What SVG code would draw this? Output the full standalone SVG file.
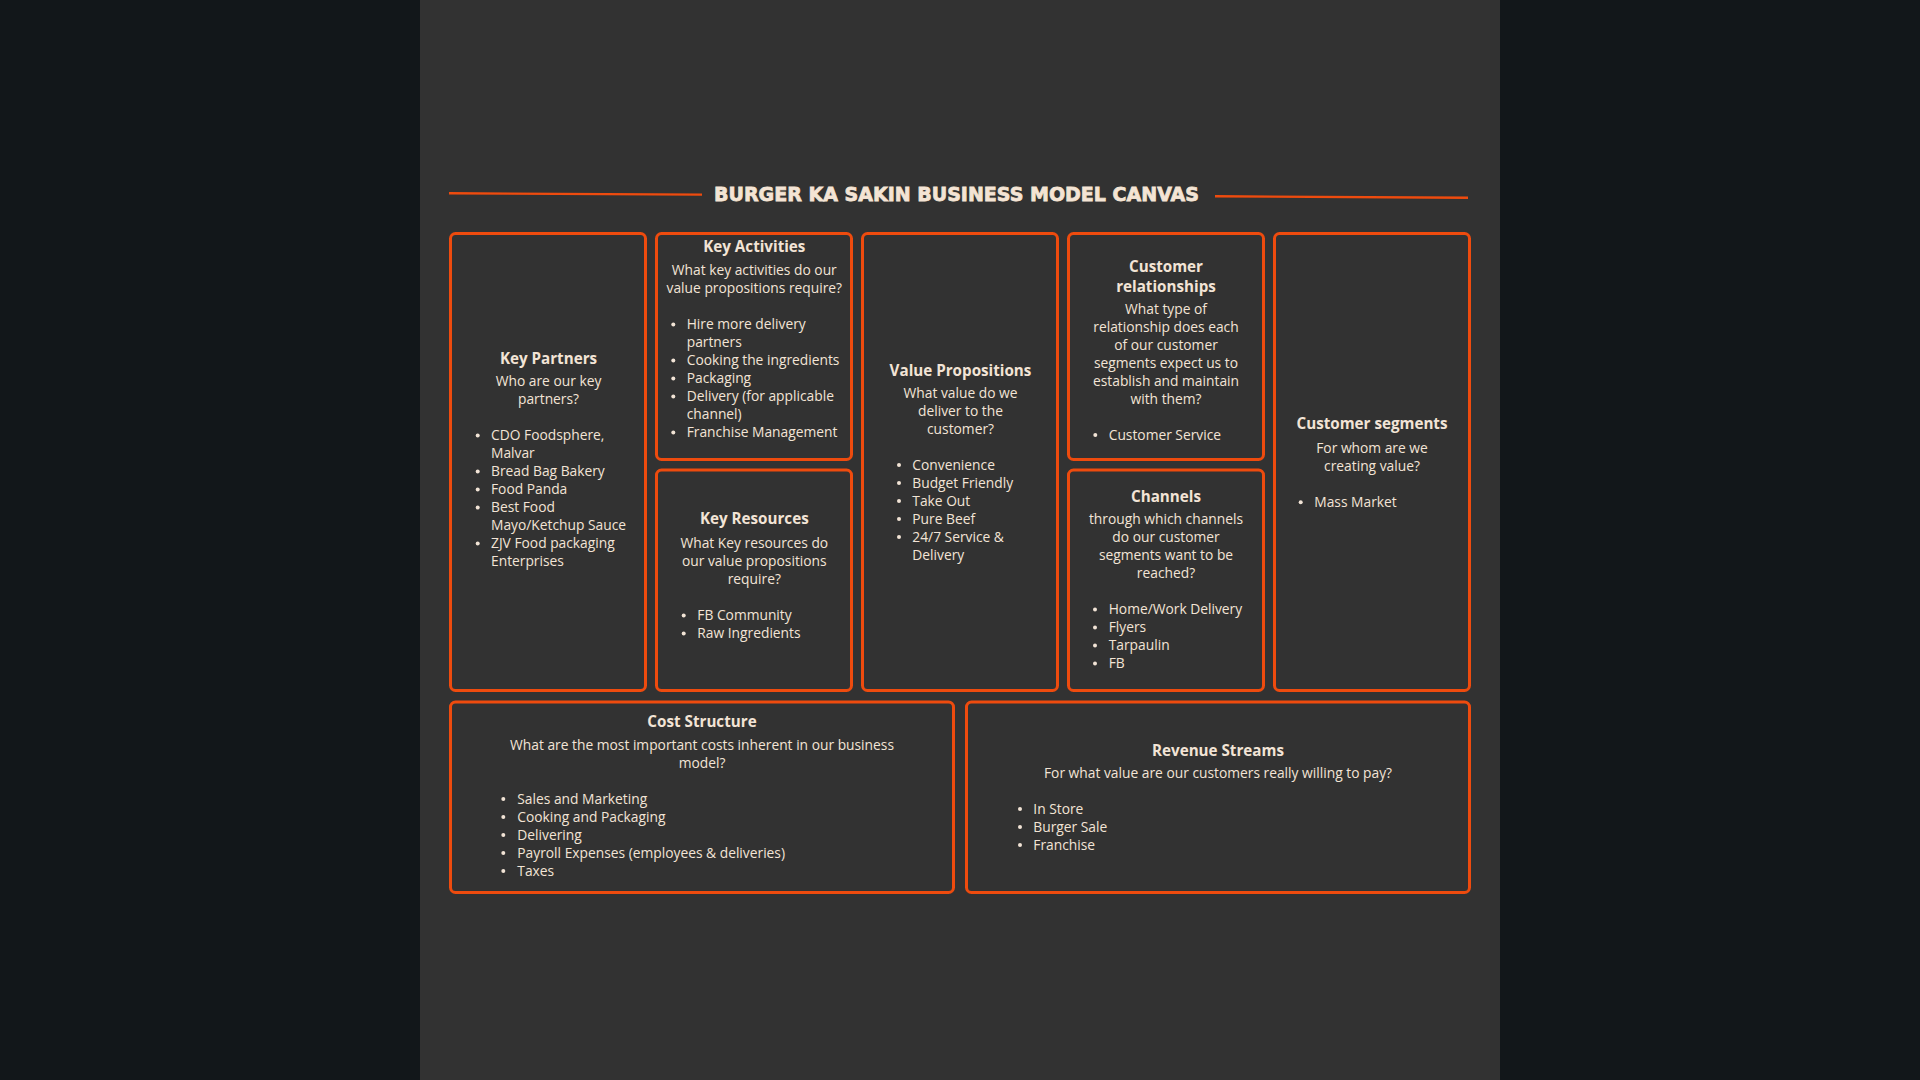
<svg xmlns="http://www.w3.org/2000/svg" width="1920" height="1080" viewBox="0 0 1920 1080">
<style>
.box{fill:#323232;stroke:#ee4b0e;stroke-width:3}
.rule{stroke:#ee4b0e;stroke-width:2.4;fill:none}
.ttl{font-family:"DejaVu Sans","Liberation Sans",sans-serif;font-weight:bold;font-size:19.5px;fill:#f4e4d4;stroke:#f4e4d4;stroke-width:0.8}
.h{font-family:"Open Sans","Noto Sans",sans-serif;font-weight:bold;font-size:15.2px;fill:#f2e4d6;text-anchor:middle}
.s{font-family:"Open Sans","Noto Sans",sans-serif;font-size:13.8px;fill:#f2e4d6;text-anchor:middle}
.li{font-family:"Open Sans","Noto Sans",sans-serif;font-size:13.8px;fill:#f2e4d6}
.b{fill:#f2e4d6}
</style>
<rect width="1920" height="1080" fill="#12171a"/>
<rect x="420" y="0" width="1080" height="1080" fill="#323232"/>
<g id="title">
<line class="rule" x1="449" y1="193.3" x2="702" y2="194.6"/>
<line class="rule" x1="1215" y1="196.3" x2="1468" y2="197.8"/>
<text class="ttl" x="714" y="200.5" textLength="485" lengthAdjust="spacingAndGlyphs">BURGER KA SAKIN BUSINESS MODEL CANVAS</text>
</g>
<g id="connectors"/>
<g id="key-partners">
<rect class="box" x="450.5" y="233.5" width="195" height="457" rx="5"/>
<text class="h" x="548.5" y="363.5">Key Partners</text>
<text class="s" x="548.5" y="386">Who are our key</text>
<text class="s" x="548.5" y="404">partners?</text>
<circle class="b" cx="477.7" cy="435.5" r="2"/><text class="li" x="491" y="440">CDO Foodsphere,</text>
<text class="li" x="491" y="458">Malvar</text>
<circle class="b" cx="477.7" cy="471.5" r="2"/><text class="li" x="491" y="476">Bread Bag Bakery</text>
<circle class="b" cx="477.7" cy="489.5" r="2"/><text class="li" x="491" y="494">Food Panda</text>
<circle class="b" cx="477.7" cy="507.5" r="2"/><text class="li" x="491" y="512">Best Food</text>
<text class="li" x="491" y="530">Mayo/Ketchup Sauce</text>
<circle class="b" cx="477.7" cy="543.5" r="2"/><text class="li" x="491" y="548">ZJV Food packaging</text>
<text class="li" x="491" y="566">Enterprises</text>
</g>
<g id="key-activities">
<rect class="box" x="656.5" y="233.5" width="195" height="226" rx="5"/>
<text class="h" x="754.3" y="251.7">Key Activities</text>
<text class="s" x="754.3" y="274.5">What key activities do our</text>
<text class="s" x="754.3" y="292.5">value propositions require?</text>
<circle class="b" cx="673.3" cy="324.5" r="2"/><text class="li" x="686.7" y="329">Hire more delivery</text>
<text class="li" x="686.7" y="347">partners</text>
<circle class="b" cx="673.3" cy="360.5" r="2"/><text class="li" x="686.7" y="365">Cooking the ingredients</text>
<circle class="b" cx="673.3" cy="378.5" r="2"/><text class="li" x="686.7" y="383">Packaging</text>
<circle class="b" cx="673.3" cy="396.5" r="2"/><text class="li" x="686.7" y="401">Delivery (for applicable</text>
<text class="li" x="686.7" y="419">channel)</text>
<circle class="b" cx="673.3" cy="432.5" r="2"/><text class="li" x="686.7" y="437">Franchise Management</text>
</g>
<g id="key-resources">
<rect class="box" x="656.5" y="470" width="195" height="220.5" rx="5"/>
<text class="h" x="754.3" y="524">Key Resources</text>
<text class="s" x="754.3" y="547.5">What Key resources do</text>
<text class="s" x="754.3" y="565.5">our value propositions</text>
<text class="s" x="754.3" y="583.5">require?</text>
<circle class="b" cx="683.7" cy="615.5" r="2"/><text class="li" x="697.3" y="620">FB Community</text>
<circle class="b" cx="683.7" cy="633.5" r="2"/><text class="li" x="697.3" y="638">Raw Ingredients</text>
</g>
<g id="value-propositions">
<rect class="box" x="862.5" y="233.5" width="195" height="457" rx="5"/>
<text class="h" x="960.5" y="375.7">Value Propositions</text>
<text class="s" x="960.5" y="397.5">What value do we</text>
<text class="s" x="960.5" y="415.5">deliver to the</text>
<text class="s" x="960.5" y="433.5">customer?</text>
<circle class="b" cx="899" cy="465" r="2"/><text class="li" x="912.3" y="469.5">Convenience</text>
<circle class="b" cx="899" cy="483" r="2"/><text class="li" x="912.3" y="487.5">Budget Friendly</text>
<circle class="b" cx="899" cy="501" r="2"/><text class="li" x="912.3" y="505.5">Take Out</text>
<circle class="b" cx="899" cy="519" r="2"/><text class="li" x="912.3" y="523.5">Pure Beef</text>
<circle class="b" cx="899" cy="537" r="2"/><text class="li" x="912.3" y="541.5">24/7 Service &amp;</text>
<text class="li" x="912.3" y="559.5">Delivery</text>
</g>
<g id="customer-relationships">
<rect class="box" x="1068.5" y="233.5" width="195" height="226" rx="5"/>
<text class="h" x="1166" y="272.3">Customer</text>
<text class="h" x="1166" y="292.3">relationships</text>
<text class="s" x="1166" y="313.5">What type of</text>
<text class="s" x="1166" y="331.5">relationship does each</text>
<text class="s" x="1166" y="349.5">of our customer</text>
<text class="s" x="1166" y="367.5">segments expect us to</text>
<text class="s" x="1166" y="385.5">establish and maintain</text>
<text class="s" x="1166" y="403.5">with them?</text>
<circle class="b" cx="1095.3" cy="435" r="2"/><text class="li" x="1108.7" y="439.5">Customer Service</text>
</g>
<g id="channels">
<rect class="box" x="1068.5" y="470" width="195" height="220.5" rx="5"/>
<text class="h" x="1166" y="501.7">Channels</text>
<text class="s" x="1166" y="524">through which channels</text>
<text class="s" x="1166" y="542">do our customer</text>
<text class="s" x="1166" y="560">segments want to be</text>
<text class="s" x="1166" y="578">reached?</text>
<circle class="b" cx="1095" cy="609.5" r="2"/><text class="li" x="1108.7" y="614">Home/Work Delivery</text>
<circle class="b" cx="1095" cy="627.5" r="2"/><text class="li" x="1108.7" y="632">Flyers</text>
<circle class="b" cx="1095" cy="645.5" r="2"/><text class="li" x="1108.7" y="650">Tarpaulin</text>
<circle class="b" cx="1095" cy="663.5" r="2"/><text class="li" x="1108.7" y="668">FB</text>
</g>
<g id="customer-segments">
<rect class="box" x="1274.5" y="233.5" width="195" height="457" rx="5"/>
<text class="h" x="1372" y="429.3">Customer segments</text>
<text class="s" x="1372" y="452.5">For whom are we</text>
<text class="s" x="1372" y="470.5">creating value?</text>
<circle class="b" cx="1300.7" cy="502.2" r="2"/><text class="li" x="1314.3" y="506.7">Mass Market</text>
</g>
<g id="cost-structure">
<rect class="box" x="450.5" y="702" width="503" height="190.5" rx="5"/>
<text class="h" x="702" y="727.3">Cost Structure</text>
<text class="s" x="702" y="750">What are the most important costs inherent in our business</text>
<text class="s" x="702" y="768">model?</text>
<circle class="b" cx="503.3" cy="799" r="2"/><text class="li" x="517.3" y="803.5">Sales and Marketing</text>
<circle class="b" cx="503.3" cy="817" r="2"/><text class="li" x="517.3" y="821.5">Cooking and Packaging</text>
<circle class="b" cx="503.3" cy="835" r="2"/><text class="li" x="517.3" y="839.5">Delivering</text>
<circle class="b" cx="503.3" cy="853" r="2"/><text class="li" x="517.3" y="857.5">Payroll Expenses (employees &amp; deliveries)</text>
<circle class="b" cx="503.3" cy="871" r="2"/><text class="li" x="517.3" y="875.5">Taxes</text>
</g>
<g id="revenue-streams">
<rect class="box" x="966.5" y="702" width="503" height="190.5" rx="5"/>
<text class="h" x="1218" y="755.7">Revenue Streams</text>
<text class="s" x="1218" y="777.5">For what value are our customers really willing to pay?</text>
<circle class="b" cx="1020" cy="809" r="2"/><text class="li" x="1033.3" y="813.5">In Store</text>
<circle class="b" cx="1020" cy="827" r="2"/><text class="li" x="1033.3" y="831.5">Burger Sale</text>
<circle class="b" cx="1020" cy="845" r="2"/><text class="li" x="1033.3" y="849.5">Franchise</text>
</g>
</svg>
